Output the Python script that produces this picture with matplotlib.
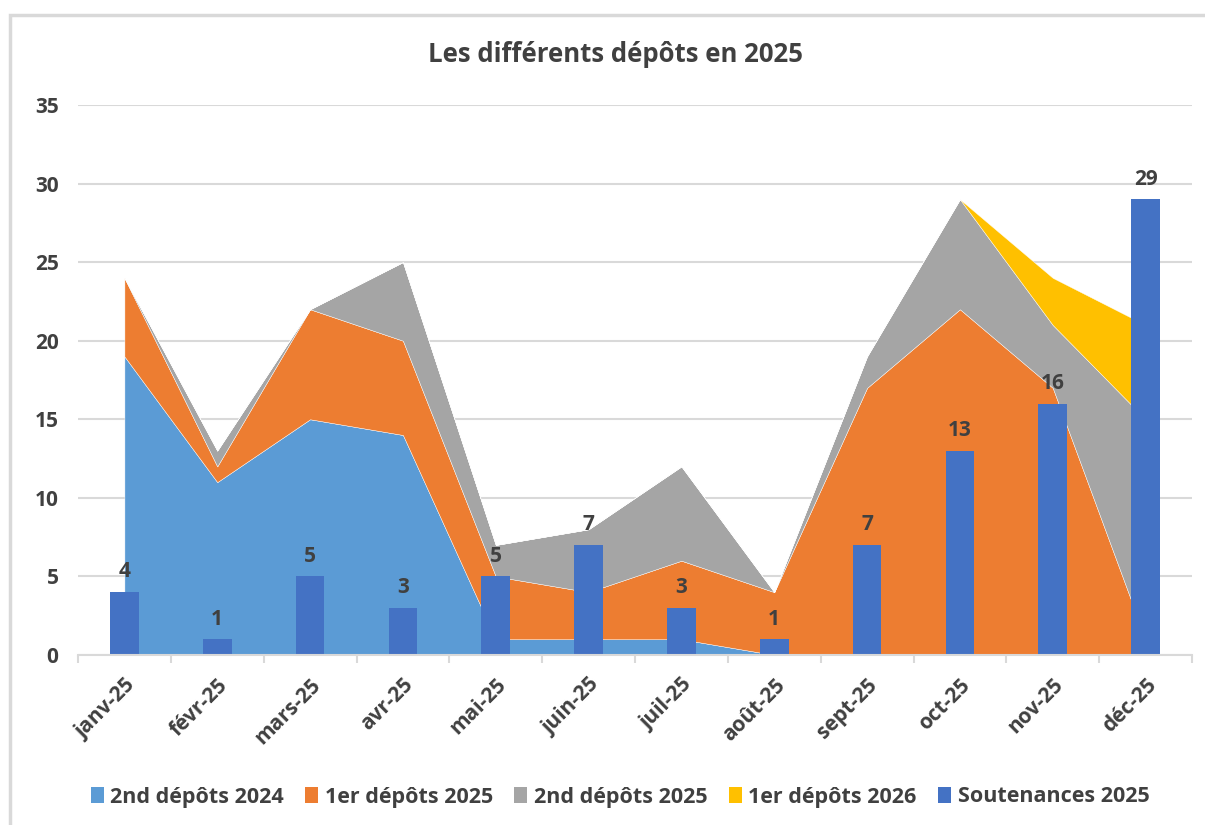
import matplotlib.pyplot as plt
import numpy as np
from matplotlib.patches import Rectangle, Patch

plt.rcParams['font.family'] = ['Open Sans', 'DejaVu Sans']

mois = ['janv-25', 'févr-25', 'mars-25', 'avr-25', 'mai-25', 'juin-25',
        'juil-25', 'août-25', 'sept-25', 'oct-25', 'nov-25', 'déc-25']
depots2_2024 = [19, 11, 15, 14, 1, 1, 1, 0, 0, 0, 0, 0]
depots1_2025 = [5, 1, 7, 6, 4, 3, 5, 4, 17, 22, 17, 1]
depots2_2025 = [0, 1, 0, 5, 2, 4, 6, 0, 2, 7, 4, 14]
depots1_2026 = [0, 0, 0, 0, 0, 0, 0, 0, 0, 0, 3, 6]
soutenances = [4, 1, 5, 3, 5, 7, 3, 1, 7, 13, 16, 29]

noms = ['2nd dépôts 2024', '1er dépôts 2025', '2nd dépôts 2025',
        '1er dépôts 2026', 'Soutenances 2025']
couleurs = ['#5B9BD5', '#ED7D31', '#A5A5A5', '#FFC000', '#4472C4']
texte = '#404040'

fig = plt.figure(figsize=(12.05, 8.25), dpi=100)
# cadre du graphique
fig.patches.append(Rectangle((10/1205, -0.1), 1.2, (825-15)/825 + 0.1,
                             transform=fig.transFigure, fill=False,
                             edgecolor='#D9D9D9', linewidth=2.5))

ax = fig.add_axes([78/1205, (825-655)/825, (1192-78)/1205, (655-105)/825])
x = np.arange(len(mois))

ax.stackplot(x, depots2_2024, depots1_2025, depots2_2025, depots1_2026,
             colors=couleurs[:4], zorder=2, edgecolor='white', linewidth=0.3)
ax.bar(x, soutenances, width=0.31, color=couleurs[4], zorder=3)
for xi, v in zip(x, soutenances):
    ax.annotate(str(v), (xi, v), xytext=(0, 7), textcoords='offset points',
                ha='center', va='bottom', fontsize=15, fontweight='bold',
                color=texte, zorder=4)

ax.set_xlim(-0.5, len(mois) - 0.5)
ax.set_ylim(0, 35)
ax.set_yticks(range(0, 36, 5))
ax.yaxis.grid(True, color='#D9D9D9', linewidth=1.5)
ax.set_axisbelow(True)
for s in ['top', 'right', 'left']:
    ax.spines[s].set_visible(False)
ax.spines['bottom'].set_color('#D9D9D9')
ax.spines['bottom'].set_linewidth(1.5)
ax.spines['bottom'].set_zorder(5)

ax.set_xticks(x)
ax.set_xticklabels(mois, rotation=45, ha='right', rotation_mode='anchor')
ax.set_xticks(np.arange(-0.5, len(mois)), minor=True)
ax.tick_params(axis='x', which='major', length=0, pad=14)
ax.tick_params(axis='x', which='minor', length=6, color='#D9D9D9', width=1.5)
ax.tick_params(axis='y', length=0, pad=14)
for lab in ax.get_xticklabels() + ax.get_yticklabels():
    lab.set_fontsize(15)
    lab.set_fontweight('bold')
    lab.set_color(texte)

fig.text(615/1205, 1 - 55/825, 'Les différents dépôts en 2025', ha='center',
         va='center', fontsize=18.5, fontweight='bold', color=texte)

poignees = [Patch(facecolor=c, label=n) for c, n in zip(couleurs, noms)]
leg = fig.legend(handles=poignees, loc='center', ncol=5,
                 bbox_to_anchor=(620/1205, 1 - 797/825), frameon=False,
                 handlelength=0.6, handleheight=0.7, handletextpad=0.3,
                 columnspacing=1.0, prop={'size': 15.5, 'weight': 'bold'})
for t in leg.get_texts():
    t.set_color(texte)

fig.savefig('out.png', dpi=100)
